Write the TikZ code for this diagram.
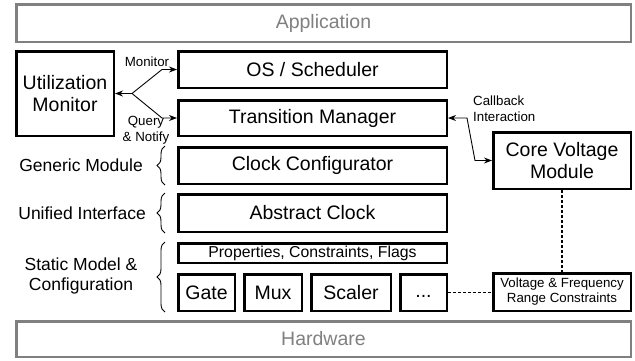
\documentclass[tikz,border=0pt]{standalone}
\usepackage{fontspec}
\setmainfont{Liberation Sans}
\usetikzlibrary{positioning, arrows.meta, decorations.pathreplacing}
\tikzset{
    kasten/.style={
        rectangle,
        draw=black,          % schwarze Kontur
        fill=white,
        line width=2.5pt,    % kraeftige Linie wie im Original
        inner sep=0pt,
        align=center,
        font=\fontsize{19.5}{22}\selectfont
    },
    schicht/.style={
        kasten,
        draw=black!50,       % graue Aussenschichten
        text=black!50
    },
    klein/.style={inner sep=0pt, font=\fontsize{13.3}{16}\selectfont},
    seite/.style={inner sep=0pt, font=\fontsize{17.5}{20}\selectfont},
    pfeil/.style={-{Stealth[length=8pt,width=6pt]}, line width=0.9pt},
    doppelpfeil/.style={{Stealth[length=8pt,width=6pt]}-{Stealth[length=8pt,width=6pt]}, line width=0.9pt},
    klammer/.style={decorate, decoration={brace, amplitude=8pt}, line width=0.9pt},
    gestrichelt/.style={line width=1.2pt, dash pattern=on 3pt off 2pt}
}
\begin{document}
\begin{tikzpicture}[x=1pt, y=-1pt]

    \useasboundingbox (0,0) rectangle (635,360);

    % Aeussere Schichten
    \node[schicht, minimum width=614.5, minimum height=37.5] (app) at (323.5,23) {Application};
    \node[schicht, minimum width=614.5, minimum height=35.5] (hw) at (323.5,339) {Hardware};

    % Hauptstapel
    \node[kasten, minimum width=268.5, minimum height=36.5] (os) at (312.5,69.5) {OS / Scheduler};
    \node[kasten, minimum width=268.5, minimum height=35.5] (tm) at (312.5,118) {Transition Manager};
    \node[kasten, minimum width=268.5, minimum height=36.5] (cc) at (312.5,165.5) {Clock Configurator};
    \node[kasten, minimum width=268.5, minimum height=37.5] (ac) at (312.5,213) {Abstract Clock};
    \node[kasten, minimum width=268.5, minimum height=19.5,
          font=\fontsize{15.8}{18}\selectfont] (props) at (312.5,253) {Properties, Constraints, Flags};

    % Untere Reihe: Name/Text/x/Breite
    \foreach \name/\text/\x/\w in {gate/Gate/206.5/56.5, mux/Mux/273/57.5, scaler/Scaler/351/79.5} {
        \node[kasten, minimum width=\w, minimum height=36.5] (\name) at (\x,292.5) {\text};
    }
    \node[kasten, minimum width=46.5, minimum height=36.5] (dots) at (423.5,292.5) {\vphantom{Ag}.\kern0pt.\kern0pt.};

    % Seitliche Module
    \node[kasten, minimum width=97.5, minimum height=84.5] (um) at (65,93.5) {Utilization\\Monitor};
    \node[kasten, minimum width=137.5, minimum height=56.5] (cvm) at (562,160.5) {Core Voltage\\Module};
    \node[kasten, minimum width=137.5, minimum height=37.5,
          font=\fontsize{13.3}{15}\selectfont] (vf) at (562,292) {Voltage \& Frequency\\Range Constraints};

    % Monitor-Verbindungen
    \coordinate (knoten) at (132,93.5);
    \coordinate (m1) at (162,69.5);
    \coordinate (m2) at (162,118);
    \draw[pfeil] (knoten) -- (um.east);
    \draw[pfeil] (knoten) -- (m1) -- (os.west);
    \draw[pfeil] (knoten) -- (m2) -- (tm.west);
    \node[klein] (monlbl) at (147,62) {Monitor};
    \node[klein, align=center] (querylbl) at (146,130.5) {Query\\\& Notify};

    % Callback zwischen Transition Manager und Core Voltage Module
    \coordinate (c1) at (467,118);
    \coordinate (c2) at (475,160.5);
    \draw[doppelpfeil] (tm.east) -- (c1) -- (c2) -- (cvm.west);
    \node[klein, align=left, anchor=west] (cblbl) at (473,108.5) {Callback\\Interaction};

    % gestrichelte Verbindungen
    \draw[gestrichelt] (cvm.south) -- (vf.north);
    \draw[gestrichelt] (dots.east) -- (vf.west |- dots.east);

    % Klammern mit Beschriftung
    \draw[klammer] (165,185) -- (165,146);
    \node[seite, anchor=east] (genlbl) at (143,165.5) {Generic Module};
    \draw[klammer] (165,233) -- (165,193);
    \node[seite, anchor=east] (unilbl) at (146,213) {Unified Interface};
    \draw[klammer] (165,312) -- (165,242);
    \node[seite, align=center] (statlbl) at (81,276) {Static Model \&\\Configuration};

\end{tikzpicture}
\end{document}
